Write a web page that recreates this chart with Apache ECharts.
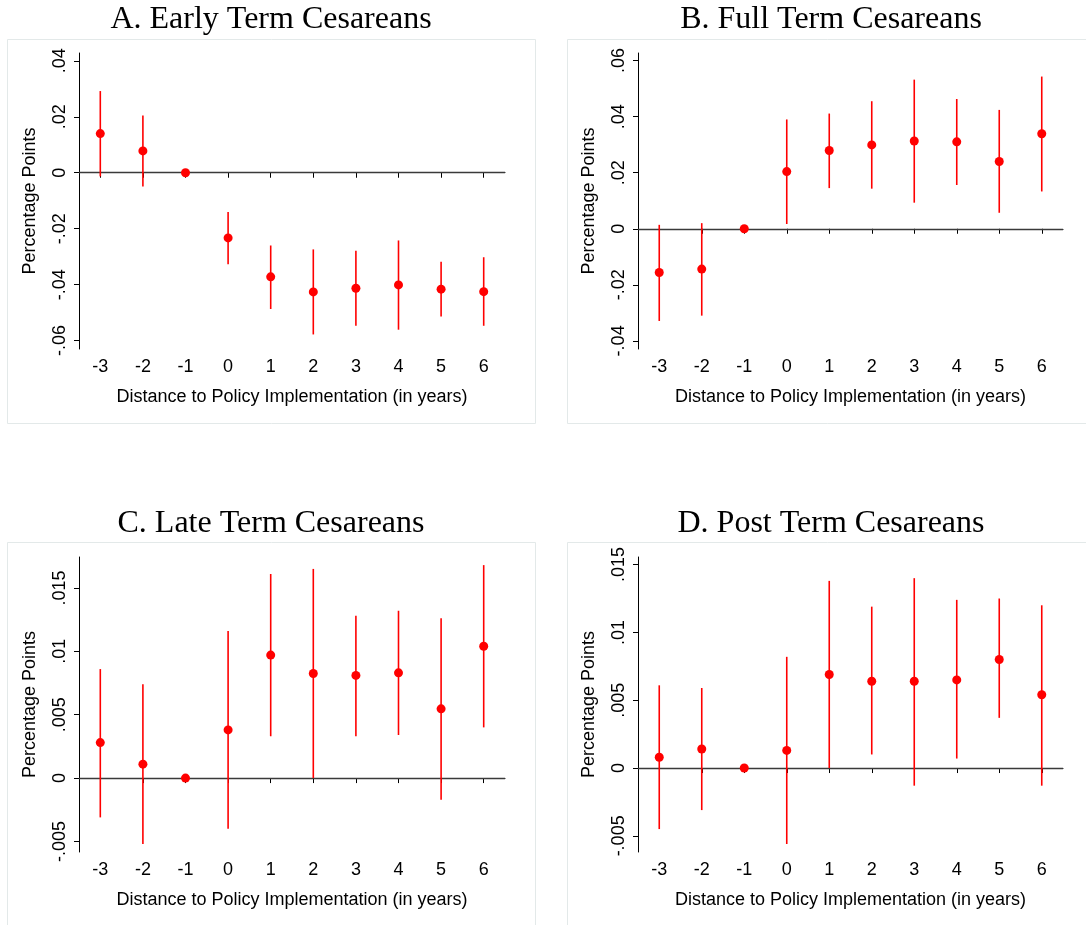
<!DOCTYPE html>
<html>
<head>
<meta charset="utf-8">
<script src="https://cdn.jsdelivr.net/npm/echarts@6/dist/echarts.min.js"></script>
<style>
html,body{margin:0;padding:0;background:#fff;}
#chart{width:1086px;height:925px;}
</style>
</head>
<body>
<div id="chart"></div>
<script>
// ---- data ----
const years = ['-3','-2','-1','0','1','2','3','4','5','6'];

const titles = ['A. Early Term Cesareans','B. Full Term Cesareans','C. Late Term Cesareans','D. Post Term Cesareans'];

const earlyCoef = [0.0140, 0.0078, 0, -0.0233, -0.0372, -0.0426, -0.0413, -0.0401, -0.0416, -0.0425];
const earlyLo   = [-0.0013, -0.0049, 0, -0.0327, -0.0487, -0.0578, -0.0547, -0.0561, -0.0514, -0.0547];
const earlyHi   = [0.0292, 0.0205, 0, -0.0140, -0.0260, -0.0274, -0.0279, -0.0242, -0.0318, -0.0302];

const fullCoef = [-0.0156, -0.0144, 0, 0.0204, 0.0279, 0.0299, 0.0313, 0.0310, 0.0240, 0.0339];
const fullLo   = [-0.0329, -0.0310, 0, 0.0017, 0.0145, 0.0143, 0.0093, 0.0156, 0.0057, 0.0133];
const fullHi   = [0.0014, 0.0020, 0, 0.0390, 0.0411, 0.0455, 0.0532, 0.0463, 0.0424, 0.0543];

const lateCoef = [0.0028, 0.0011, 0, 0.0038, 0.0097, 0.00825, 0.0081, 0.0083, 0.00546, 0.0104];
const lateLo   = [-0.0031, -0.0052, 0, -0.0040, 0.0033, 0.0000, 0.0033, 0.0034, -0.0017, 0.0040];
const lateHi   = [0.0086, 0.0074, 0, 0.0116, 0.0161, 0.0165, 0.0128, 0.0132, 0.0126, 0.0168];

const postCoef = [0.0008, 0.0014, 0, 0.0013, 0.0069, 0.0064, 0.0064, 0.0065, 0.0080, 0.0054];
const postLo   = [-0.0045, -0.0031, 0, -0.0056, 0.0000, 0.0010, -0.0013, 0.0007, 0.0037, -0.0013];
const postHi   = [0.0061, 0.0059, 0, 0.0082, 0.0138, 0.0119, 0.0140, 0.0124, 0.0125, 0.0120];

const ticksA = [-0.06, -0.04, -0.02, 0, 0.02, 0.04];
const ticksB = [-0.04, -0.02, 0, 0.02, 0.04, 0.06];
const ticksC = [-0.005, 0, 0.005, 0.01, 0.015];
const ticksD = [-0.005, 0, 0.005, 0.01, 0.015];

const xAxisTitle = 'Distance to Policy Implementation (in years)';
const yAxisTitle = 'Percentage Points';

// ---- layout ----
const panels = [
  {coef: earlyCoef, lo: earlyLo, hi: earlyHi, ticks: ticksA, min: -0.063, max: 0.0428,
   grid: {left: 79, top: 53, width: 426, height: 296}, box: [7, 39, 528, 384], tx: 271, ty: 20},
  {coef: fullCoef, lo: fullLo, hi: fullHi, ticks: ticksB, min: -0.0429, max: 0.0627,
   grid: {left: 638, top: 53, width: 425, height: 296}, box: [567, 39, 528, 384], tx: 831, ty: 20},
  {coef: lateCoef, lo: lateLo, hi: lateHi, ticks: ticksC, min: -0.00583, max: 0.01744,
   grid: {left: 79, top: 557, width: 426, height: 295}, box: [7, 542, 528, 400], tx: 271, ty: 524},
  {coef: postCoef, lo: postLo, hi: postHi, ticks: ticksD, min: -0.00619, max: 0.01556,
   grid: {left: 638, top: 557, width: 425, height: 295}, box: [567, 542, 528, 400], tx: 831, ty: 524}
];

const sans = "'Liberation Sans', Arial, Helvetica, sans-serif";
const serif = "'Liberation Serif', 'Times New Roman', serif";

function fmt(v) {
  let s = String(+Number(v).toFixed(4));
  return s.replace(/^(-?)0\./, '$1.');
}

const option = {
  animation: false,
  backgroundColor: '#fff',
  grid: [], xAxis: [], yAxis: [], series: [], graphic: []
};

panels.forEach((p, i) => {
  option.grid.push(Object.assign({containLabel: false}, p.grid));
  option.xAxis.push({
    type: 'category', gridIndex: i, data: years, boundaryGap: true,
    axisLine: {show: true, lineStyle: {color: '#000', width: 1}},
    axisTick: {show: true, alignWithLabel: true, length: 5, lineStyle: {color: '#000'}},
    axisLabel: {color: '#000', fontFamily: sans, fontSize: 18, margin: 9},
    splitLine: {show: false},
    name: xAxisTitle, nameLocation: 'middle', nameGap: 39,
    nameTextStyle: {color: '#000', fontFamily: sans, fontSize: 18}
  });
  option.yAxis.push({
    type: 'value', gridIndex: i, min: p.min, max: p.max,
    axisLine: {show: true, lineStyle: {color: '#000', width: 1}},
    axisTick: {show: true, length: 5, customValues: p.ticks, lineStyle: {color: '#000'}},
    axisLabel: {show: true, customValues: p.ticks, rotate: 90, color: '#000', fontFamily: sans, fontSize: 18, margin: 10,
      formatter: fmt},
    splitLine: {show: false},
    name: yAxisTitle, nameLocation: 'middle', nameGap: 40, nameRotate: 90,
    nameTextStyle: {color: '#000', fontFamily: sans, fontSize: 18}
  });
  // confidence intervals
  option.series.push({
    type: 'custom', xAxisIndex: i, yAxisIndex: i, silent: true,
    data: years.map((y, k) => [k, p.lo[k], p.hi[k]]),
    renderItem: function (params, api) {
      const a = api.coord([api.value(0), api.value(1)]);
      const b = api.coord([api.value(0), api.value(2)]);
      return {type: 'line', shape: {x1: a[0], y1: a[1], x2: b[0], y2: b[1]},
        style: {stroke: '#ff0000', lineWidth: 1.6}};
    },
    z: 2
  });
  // point estimates + zero line
  option.series.push({
    type: 'scatter', xAxisIndex: i, yAxisIndex: i, silent: true,
    data: years.map((y, k) => [k, p.coef[k]]),
    symbol: 'circle', symbolSize: 9,
    itemStyle: {color: '#ff0000', opacity: 1},
    z: 3,
    markLine: {
      silent: true, symbol: 'none', label: {show: false},
      lineStyle: {color: '#3a3a3a', width: 1.3, type: 'solid'},
      data: [{yAxis: 0}], z: 1
    }
  });
  option.graphic.push({
    type: 'rect', shape: {x: p.box[0] + 0.5, y: p.box[1] + 0.5, width: p.box[2], height: p.box[3]},
    style: {fill: 'none', stroke: '#e3e9e9', lineWidth: 1}, z: -1, silent: true
  });
  option.graphic.push({
    type: 'text', x: p.tx, y: p.ty, silent: true,
    style: {text: titles[i], fill: '#000', font: '32px ' + serif, textAlign: 'center', textVerticalAlign: 'middle'}
  });
});

const chart = echarts.init(document.getElementById('chart'), null, {renderer: 'canvas'});
chart.setOption(option);
</script>
</body>
</html>
